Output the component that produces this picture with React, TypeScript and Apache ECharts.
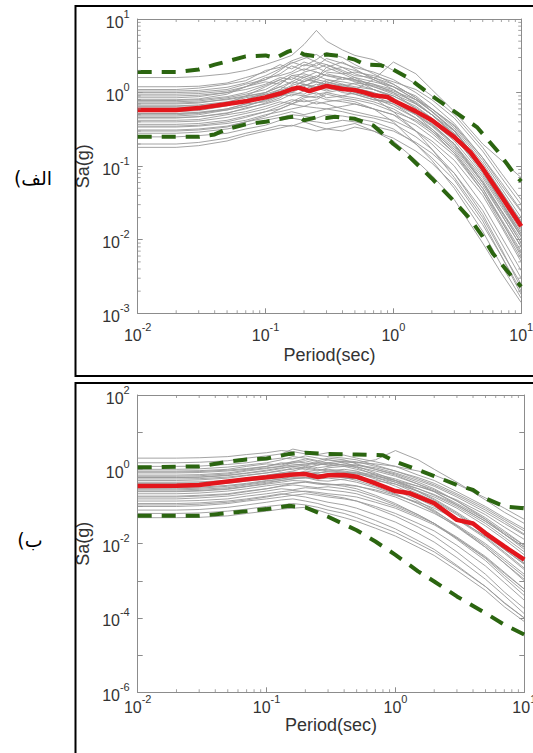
import React, { useEffect, useRef } from "react";
import * as echarts from "echarts";

// ---------- data ----------
const PERIODS = [0.01, 0.02, 0.03, 0.05, 0.07, 0.1, 0.13, 0.16, 0.2, 0.25, 0.3, 0.4, 0.5, 0.7, 1, 1.5, 2, 3, 5, 7, 10];

// panel (الف) individual record spectra, Sa(g) at PERIODS
const A_RECORDS: number[][] = [
  [1.2, 1.2, 1.22, 1.35, 1.6, 1.9, 2.4, 2.1, 2.6, 2.3, 2.9, 2.5, 2.2, 1.9, 1.5, 1.0, 0.7, 0.38, 0.13, 0.06, 0.025],
  [1.1, 1.1, 1.15, 1.3, 1.45, 2.0, 2.2, 2.7, 3.1, 2.6, 2.4, 2.0, 1.7, 1.6, 1.3, 0.85, 0.55, 0.3, 0.1, 0.045, 0.018],
  [1.0, 1.0, 1.02, 1.1, 1.3, 1.5, 1.8, 2.3, 2.0, 2.5, 2.2, 2.6, 2.1, 1.5, 1.1, 0.7, 0.5, 0.26, 0.085, 0.033, 0.012],
  [0.95, 0.95, 0.97, 1.05, 1.2, 1.6, 1.7, 1.9, 2.4, 2.2, 1.9, 1.8, 1.9, 1.7, 1.4, 1.1, 0.8, 0.45, 0.16, 0.07, 0.03],
  [0.85, 0.85, 0.88, 1.0, 1.1, 1.3, 1.6, 1.5, 1.9, 2.1, 2.4, 1.9, 1.6, 1.2, 1.0, 0.6, 0.38, 0.2, 0.06, 0.022, 0.008],
  [0.8, 0.8, 0.82, 0.95, 1.2, 1.4, 1.3, 1.7, 1.8, 1.6, 2.0, 2.2, 2.0, 1.6, 1.2, 0.9, 0.6, 0.35, 0.12, 0.05, 0.02],
  [0.75, 0.75, 0.77, 0.85, 0.95, 1.1, 1.4, 1.6, 1.4, 1.7, 1.5, 1.4, 1.3, 1.1, 0.85, 0.5, 0.32, 0.16, 0.05, 0.018, 0.006],
  [0.7, 0.7, 0.72, 0.82, 0.9, 1.2, 1.5, 1.3, 1.6, 1.9, 1.7, 1.5, 1.6, 1.4, 1.2, 0.8, 0.55, 0.3, 0.1, 0.04, 0.016],
  [0.66, 0.66, 0.68, 0.75, 0.85, 0.95, 1.1, 1.4, 1.3, 1.2, 1.5, 1.3, 1.1, 0.9, 0.7, 0.45, 0.3, 0.15, 0.045, 0.016, 0.0055],
  [0.62, 0.62, 0.64, 0.72, 0.9, 1.0, 1.2, 1.1, 1.5, 1.4, 1.3, 1.6, 1.5, 1.3, 1.0, 0.75, 0.5, 0.28, 0.09, 0.035, 0.013],
  [0.58, 0.58, 0.6, 0.68, 0.75, 0.85, 1.0, 1.2, 1.1, 1.3, 1.2, 1.0, 0.95, 0.8, 0.75, 0.5, 0.36, 0.2, 0.07, 0.028, 0.011],
  [0.55, 0.55, 0.57, 0.66, 0.8, 0.95, 0.9, 1.1, 1.3, 1.1, 1.4, 1.2, 1.0, 0.85, 0.55, 0.3, 0.17, 0.07, 0.02, 0.007, 0.0025],
  [0.52, 0.52, 0.54, 0.6, 0.7, 0.75, 0.9, 1.0, 0.95, 1.2, 1.1, 1.3, 1.2, 1.1, 0.9, 0.65, 0.45, 0.25, 0.08, 0.032, 0.012],
  [0.48, 0.48, 0.5, 0.58, 0.65, 0.8, 0.95, 0.9, 1.05, 0.95, 1.0, 0.9, 0.85, 0.75, 0.6, 0.4, 0.28, 0.15, 0.05, 0.019, 0.007],
  [0.45, 0.45, 0.47, 0.52, 0.62, 0.7, 0.8, 0.95, 0.9, 0.85, 1.0, 1.1, 0.95, 0.8, 0.7, 0.5, 0.35, 0.19, 0.06, 0.024, 0.009],
  [0.42, 0.42, 0.43, 0.5, 0.55, 0.65, 0.75, 0.7, 0.85, 0.9, 0.8, 0.75, 0.7, 0.6, 0.5, 0.3, 0.2, 0.1, 0.03, 0.011, 0.0038],
  [0.4, 0.4, 0.41, 0.46, 0.52, 0.6, 0.7, 0.8, 0.75, 0.8, 0.95, 0.85, 0.8, 0.7, 0.55, 0.42, 0.3, 0.17, 0.055, 0.022, 0.008],
  [0.37, 0.37, 0.38, 0.42, 0.48, 0.55, 0.6, 0.7, 0.8, 0.7, 0.75, 0.8, 0.75, 0.6, 0.4, 0.2, 0.12, 0.05, 0.013, 0.0045, 0.0016],
  [0.34, 0.34, 0.35, 0.38, 0.42, 0.5, 0.55, 0.6, 0.65, 0.62, 0.6, 0.65, 0.7, 0.6, 0.5, 0.36, 0.25, 0.14, 0.045, 0.018, 0.0065],
  [0.31, 0.31, 0.32, 0.35, 0.4, 0.45, 0.5, 0.55, 0.5, 0.55, 0.6, 0.55, 0.5, 0.45, 0.38, 0.25, 0.17, 0.08, 0.022, 0.0075, 0.0022],
  [0.28, 0.28, 0.29, 0.32, 0.36, 0.42, 0.46, 0.5, 0.48, 0.45, 0.5, 0.48, 0.45, 0.4, 0.32, 0.2, 0.13, 0.065, 0.018, 0.006, 0.0018],
  [0.25, 0.25, 0.26, 0.28, 0.32, 0.36, 0.42, 0.45, 0.42, 0.4, 0.38, 0.42, 0.4, 0.35, 0.3, 0.21, 0.15, 0.08, 0.025, 0.009, 0.003],
  [0.2, 0.2, 0.21, 0.24, 0.28, 0.32, 0.36, 0.35, 0.4, 0.35, 0.32, 0.35, 0.38, 0.3, 0.22, 0.12, 0.075, 0.035, 0.009, 0.0035, 0.0014],
  [1.6, 1.6, 1.65, 1.8, 2.0, 2.4, 2.8, 3.2, 4.5, 7.0, 5.0, 3.8, 3.2, 2.8, 2.0, 1.3, 0.9, 0.5, 0.18, 0.08, 0.035],
  [0.18, 0.18, 0.19, 0.22, 0.26, 0.3, 0.33, 0.36, 0.33, 0.3, 0.32, 0.3, 0.34, 0.3, 0.24, 0.16, 0.11, 0.055, 0.016, 0.006, 0.002],
  [0.6, 0.6, 0.62, 0.7, 0.8, 1.0, 1.3, 1.7, 1.6, 1.4, 1.3, 1.2, 1.1, 1.5, 2.6, 1.8, 1.1, 0.55, 0.2, 0.12, 0.07],
  [0.5, 0.5, 0.52, 0.6, 0.7, 0.9, 1.1, 1.0, 1.2, 1.5, 1.8, 1.6, 1.4, 1.2, 0.95, 0.7, 0.5, 0.3, 0.1, 0.042, 0.017],
  [0.72, 0.72, 0.74, 0.8, 0.88, 1.0, 1.2, 1.4, 1.7, 1.5, 1.4, 1.25, 1.15, 1.0, 0.8, 0.55, 0.4, 0.22, 0.075, 0.03, 0.011],
  [0.9, 0.9, 0.92, 1.0, 1.2, 1.5, 2.0, 2.6, 2.3, 2.8, 3.5, 3.0, 2.4, 1.8, 1.3, 0.85, 0.6, 0.33, 0.11, 0.045, 0.017],
  [0.35, 0.35, 0.36, 0.4, 0.46, 0.55, 0.65, 0.75, 0.9, 1.0, 0.85, 0.9, 1.0, 0.85, 0.65, 0.45, 0.32, 0.18, 0.06, 0.025, 0.01],
  [0.65, 0.65, 0.66, 0.72, 0.78, 0.9, 1.05, 1.25, 1.4, 1.6, 2.2, 1.8, 1.5, 1.1, 0.9, 0.62, 0.45, 0.26, 0.09, 0.037, 0.014],
  [0.46, 0.46, 0.47, 0.53, 0.6, 0.72, 0.85, 1.1, 1.3, 1.15, 1.05, 1.2, 1.35, 1.25, 1.05, 0.8, 0.6, 0.36, 0.13, 0.055, 0.024],
  [0.3, 0.3, 0.31, 0.34, 0.4, 0.48, 0.6, 0.7, 0.65, 0.75, 0.7, 0.6, 0.55, 0.48, 0.42, 0.3, 0.22, 0.12, 0.04, 0.015, 0.005],
  [0.78, 0.78, 0.8, 0.88, 1.0, 1.25, 1.5, 1.8, 2.1, 1.9, 1.7, 1.6, 1.45, 1.3, 1.1, 0.72, 0.5, 0.27, 0.085, 0.032, 0.011],
  [0.52, 0.52, 0.53, 0.58, 0.66, 0.78, 0.92, 1.05, 1.25, 1.4, 1.2, 1.05, 1.15, 1.0, 0.78, 0.52, 0.37, 0.2, 0.064, 0.025, 0.009],
  [1.05, 1.05, 1.07, 1.18, 1.35, 1.7, 2.1, 2.5, 2.9, 3.3, 2.7, 2.2, 1.8, 1.5, 1.2, 0.8, 0.56, 0.31, 0.1, 0.04, 0.015],
];

const A_MEAN_T = [0.01, 0.02, 0.03, 0.05, 0.07, 0.1, 0.13, 0.16, 0.18, 0.2, 0.22, 0.25, 0.3, 0.35, 0.4, 0.5, 0.6, 0.7, 0.9, 1, 1.5, 2, 3, 4, 5, 7, 10];
const A_MEAN = [0.58, 0.58, 0.615, 0.7, 0.76, 0.86, 0.97, 1.11, 1.17, 1.11, 1.05, 1.12, 1.23, 1.17, 1.12, 1.08, 1.0, 0.92, 0.87, 0.78, 0.555, 0.42, 0.248, 0.155, 0.093, 0.039, 0.0152];

const A_UPPER_T = [0.01, 0.02, 0.03, 0.04, 0.05, 0.07, 0.1, 0.12, 0.15, 0.17, 0.2, 0.25, 0.3, 0.4, 0.5, 0.6, 0.8, 1, 1.3, 1.7, 2, 2.8, 4.5, 6.6, 9, 10];
const A_UPPER = [1.9, 1.9, 2.06, 2.4, 2.65, 3.1, 3.2, 2.95, 3.6, 3.85, 3.3, 3.1, 3.3, 3.1, 2.8, 2.4, 2.35, 2.05, 1.6, 1.12, 0.9, 0.6, 0.34, 0.157, 0.075, 0.062];

const A_LOWER_T = [0.01, 0.03, 0.04, 0.05, 0.07, 0.1, 0.15, 0.18, 0.2, 0.25, 0.3, 0.35, 0.5, 0.7, 0.8, 1, 1.3, 2, 3, 4, 5, 6, 8.4, 10];
const A_LOWER = [0.25, 0.25, 0.27, 0.32, 0.37, 0.4, 0.46, 0.48, 0.42, 0.46, 0.45, 0.47, 0.44, 0.355, 0.29, 0.2, 0.14, 0.068, 0.033, 0.019, 0.011, 0.0065, 0.0032, 0.0023];

// panel (ب)
const B_RECORDS: number[][] = [
  [2.0, 2.0, 2.05, 2.2, 2.5, 2.8, 3.2, 3.0, 2.6, 2.4, 2.2, 2.0, 1.8, 1.3, 0.9, 0.55, 0.38, 0.2, 0.08, 0.04, 0.018],
  [1.5, 1.5, 1.55, 1.7, 2.0, 2.3, 2.6, 3.5, 3.0, 2.5, 2.8, 2.4, 2.0, 1.6, 1.2, 0.7, 0.5, 0.25, 0.1, 0.05, 0.025],
  [1.2, 1.2, 1.22, 1.35, 1.5, 1.8, 2.0, 1.9, 2.3, 2.0, 1.8, 1.6, 1.5, 1.8, 3.2, 1.8, 1.0, 0.45, 0.15, 0.07, 0.035],
  [1.0, 1.0, 1.03, 1.15, 1.3, 1.5, 1.8, 2.2, 2.0, 1.7, 2.0, 1.8, 1.4, 1.0, 0.7, 0.4, 0.25, 0.11, 0.04, 0.018, 0.008],
  [0.9, 0.9, 0.92, 1.0, 1.2, 1.4, 1.3, 1.6, 1.9, 1.6, 1.5, 1.7, 1.6, 1.2, 0.9, 0.6, 0.42, 0.22, 0.09, 0.045, 0.022],
  [0.8, 0.8, 0.82, 0.9, 1.0, 1.2, 1.5, 1.4, 1.3, 1.5, 1.8, 1.5, 1.2, 0.8, 0.5, 0.26, 0.16, 0.07, 0.022, 0.009, 0.0035],
  [0.7, 0.7, 0.72, 0.8, 0.95, 1.1, 1.2, 1.5, 1.7, 1.4, 1.3, 1.2, 1.3, 1.1, 0.8, 0.5, 0.35, 0.18, 0.07, 0.035, 0.017],
  [0.6, 0.6, 0.62, 0.7, 0.8, 0.95, 1.1, 1.2, 1.1, 1.3, 1.5, 1.3, 1.1, 0.7, 0.45, 0.25, 0.15, 0.065, 0.02, 0.008, 0.003],
  [0.55, 0.55, 0.56, 0.62, 0.7, 0.8, 0.95, 1.0, 1.2, 1.0, 0.9, 1.0, 0.9, 0.6, 0.4, 0.22, 0.14, 0.06, 0.019, 0.007, 0.0028],
  [0.5, 0.5, 0.52, 0.58, 0.68, 0.8, 0.9, 1.1, 1.0, 0.9, 1.1, 1.2, 1.0, 0.75, 0.55, 0.35, 0.25, 0.12, 0.045, 0.02, 0.009],
  [0.45, 0.45, 0.46, 0.5, 0.58, 0.7, 0.8, 0.75, 0.9, 0.8, 0.85, 0.8, 0.7, 0.45, 0.28, 0.14, 0.08, 0.03, 0.008, 0.003, 0.001],
  [0.4, 0.4, 0.41, 0.46, 0.55, 0.62, 0.75, 0.85, 0.8, 0.7, 0.75, 0.8, 0.85, 0.7, 0.5, 0.3, 0.2, 0.1, 0.035, 0.015, 0.006],
  [0.36, 0.36, 0.37, 0.42, 0.48, 0.55, 0.6, 0.7, 0.8, 0.75, 0.65, 0.6, 0.55, 0.4, 0.28, 0.16, 0.1, 0.045, 0.014, 0.0055, 0.002],
  [0.32, 0.32, 0.33, 0.37, 0.42, 0.5, 0.55, 0.6, 0.58, 0.65, 0.7, 0.6, 0.5, 0.35, 0.22, 0.12, 0.07, 0.028, 0.008, 0.003, 0.0011],
  [0.28, 0.28, 0.29, 0.32, 0.38, 0.45, 0.5, 0.55, 0.6, 0.5, 0.48, 0.55, 0.6, 0.5, 0.4, 0.26, 0.18, 0.09, 0.03, 0.013, 0.005],
  [0.25, 0.25, 0.26, 0.29, 0.34, 0.4, 0.45, 0.5, 0.48, 0.42, 0.4, 0.35, 0.3, 0.2, 0.12, 0.06, 0.035, 0.013, 0.0035, 0.0012, 0.0004],
  [0.22, 0.22, 0.23, 0.26, 0.3, 0.36, 0.4, 0.42, 0.45, 0.4, 0.38, 0.4, 0.36, 0.26, 0.18, 0.1, 0.065, 0.03, 0.009, 0.0035, 0.0013],
  [0.19, 0.19, 0.2, 0.22, 0.26, 0.3, 0.35, 0.38, 0.35, 0.32, 0.34, 0.3, 0.26, 0.18, 0.11, 0.06, 0.035, 0.014, 0.004, 0.0014, 0.0005],
  [0.16, 0.16, 0.17, 0.19, 0.22, 0.26, 0.3, 0.28, 0.32, 0.3, 0.28, 0.25, 0.22, 0.15, 0.1, 0.055, 0.035, 0.015, 0.0045, 0.0017, 0.0006],
  [0.14, 0.14, 0.145, 0.16, 0.19, 0.22, 0.25, 0.27, 0.25, 0.22, 0.2, 0.17, 0.14, 0.09, 0.055, 0.028, 0.016, 0.006, 0.0015, 0.0005, 0.00018],
  [0.12, 0.12, 0.125, 0.14, 0.16, 0.19, 0.22, 0.2, 0.22, 0.2, 0.18, 0.16, 0.14, 0.1, 0.065, 0.035, 0.022, 0.009, 0.0025, 0.0009, 0.0003],
  [0.1, 0.1, 0.105, 0.12, 0.14, 0.16, 0.18, 0.2, 0.18, 0.15, 0.13, 0.11, 0.09, 0.06, 0.038, 0.019, 0.011, 0.0042, 0.0011, 0.0004, 0.00013],
  [0.08, 0.08, 0.083, 0.095, 0.11, 0.13, 0.15, 0.16, 0.14, 0.12, 0.1, 0.08, 0.065, 0.042, 0.025, 0.012, 0.007, 0.0026, 0.0007, 0.00025, 0.0001],
  [0.065, 0.065, 0.067, 0.075, 0.085, 0.1, 0.11, 0.12, 0.11, 0.095, 0.08, 0.065, 0.05, 0.032, 0.02, 0.01, 0.006, 0.0024, 0.0007, 0.00026, 0.0001],
  [0.05, 0.05, 0.051, 0.056, 0.065, 0.075, 0.085, 0.09, 0.095, 0.08, 0.065, 0.05, 0.04, 0.026, 0.016, 0.008, 0.0048, 0.0019, 0.00055, 0.0002, 0.00008],
  [0.3, 0.3, 0.31, 0.35, 0.4, 0.48, 0.55, 0.65, 0.7, 0.6, 0.7, 0.75, 0.8, 0.65, 0.5, 0.35, 0.26, 0.15, 0.06, 0.028, 0.013],
  [0.42, 0.42, 0.43, 0.48, 0.56, 0.66, 0.8, 0.9, 1.1, 0.95, 1.0, 0.9, 0.8, 0.55, 0.35, 0.19, 0.12, 0.05, 0.015, 0.006, 0.0022],
  [0.65, 0.65, 0.67, 0.75, 0.9, 1.05, 1.2, 1.3, 1.4, 1.5, 1.3, 1.6, 1.5, 1.4, 1.2, 0.9, 0.7, 0.4, 0.17, 0.09, 0.045],
  [0.85, 0.85, 0.87, 0.95, 1.05, 1.2, 1.4, 1.6, 1.5, 1.3, 1.45, 1.3, 1.15, 0.9, 0.65, 0.4, 0.28, 0.14, 0.05, 0.022, 0.009],
  [0.38, 0.38, 0.39, 0.44, 0.5, 0.58, 0.68, 0.75, 0.72, 0.8, 0.9, 0.85, 0.75, 0.6, 0.45, 0.3, 0.21, 0.11, 0.04, 0.018, 0.008],
  [0.26, 0.26, 0.27, 0.3, 0.35, 0.42, 0.5, 0.56, 0.6, 0.55, 0.58, 0.52, 0.45, 0.32, 0.21, 0.12, 0.075, 0.032, 0.01, 0.004, 0.0015],
  [0.18, 0.18, 0.19, 0.21, 0.25, 0.3, 0.36, 0.42, 0.46, 0.43, 0.4, 0.38, 0.35, 0.28, 0.2, 0.13, 0.09, 0.045, 0.016, 0.007, 0.0028],
  [0.11, 0.11, 0.115, 0.13, 0.15, 0.18, 0.21, 0.24, 0.26, 0.24, 0.22, 0.2, 0.18, 0.13, 0.09, 0.05, 0.032, 0.014, 0.0042, 0.0016, 0.0006],
  [0.6, 0.6, 0.61, 0.68, 0.78, 0.9, 1.05, 1.2, 1.3, 1.1, 1.2, 1.4, 1.3, 1.0, 0.75, 0.45, 0.3, 0.14, 0.045, 0.018, 0.007],
];

const B_MEAN_T = [0.01, 0.02, 0.03, 0.05, 0.07, 0.1, 0.13, 0.16, 0.2, 0.25, 0.3, 0.4, 0.5, 0.7, 1, 1.3, 1.5, 2, 3, 4, 5, 7, 10];
const B_MEAN = [0.356, 0.36, 0.38, 0.47, 0.54, 0.61, 0.675, 0.73, 0.75, 0.62, 0.69, 0.7, 0.635, 0.42, 0.26, 0.226, 0.184, 0.122, 0.0435, 0.035, 0.019, 0.0084, 0.0037];

const B_UPPER_T = [0.01, 0.03, 0.05, 0.07, 0.1, 0.15, 0.2, 0.3, 0.5, 0.8, 1, 1.5, 2, 3, 4, 5, 7, 10];
const B_UPPER = [1.13, 1.2, 1.6, 1.85, 1.95, 2.6, 2.8, 2.6, 2.5, 2.4, 1.6, 0.96, 0.66, 0.38, 0.28, 0.166, 0.1, 0.09];

const B_LOWER_T = [0.01, 0.03, 0.05, 0.1, 0.15, 0.2, 0.3, 0.5, 0.7, 1, 1.5, 2, 3, 5, 7, 10];
const B_LOWER = [0.056, 0.056, 0.066, 0.085, 0.104, 0.095, 0.053, 0.023, 0.0114, 0.005, 0.0018, 0.00096, 0.00038, 0.000135, 0.000066, 0.0000357];

// axes
const X_RANGE = [0.01, 10];
const A_Y_RANGE = [0.001, 10];
const B_Y_RANGE = [0.000001, 100];
const MINOR_X = [0.02, 0.03, 0.04, 0.05, 0.06, 0.07, 0.08, 0.09, 0.2, 0.3, 0.4, 0.5, 0.6, 0.7, 0.8, 0.9, 2, 3, 4, 5, 6, 7, 8, 9];
const A_MINOR_Y = [0.002, 0.003, 0.004, 0.005, 0.006, 0.007, 0.008, 0.009, 0.02, 0.03, 0.04, 0.05, 0.06, 0.07, 0.08, 0.09, 0.2, 0.3, 0.4, 0.5, 0.6, 0.7, 0.8, 0.9, 2, 3, 4, 5, 6, 7, 8, 9];

const X_NAME = "Period(sec)";
const Y_NAME = "Sa(g)";
const PANEL_LABELS = ["الف)\u200F", "ب)\u200F"];

// ---------- styles ----------
const AXIS_COLOR = "#8c8c8c";
const LABEL_COLOR = "#333333";
const FONT = "'Liberation Sans', Arial, sans-serif";
const GRAY = "#9a9a9a";
const RED = "#e3161c";
const GREEN = "#2b6510";

const rich = {
  b: { fontSize: 16, lineHeight: 22, verticalAlign: "bottom", color: LABEL_COLOR, fontFamily: FONT },
  s: { fontSize: 11, lineHeight: 12, verticalAlign: "top", color: LABEL_COLOR, fontFamily: FONT },
};

const powLabel = (skipOdd: boolean) => (v: number) => {
  const e = Math.round(Math.log10(v));
  if (skipOdd && e % 2 !== 0) return "";
  return `{b|10}{s|${e}}`;
};

const axisLine = { show: true, onZero: false, lineStyle: { color: AXIS_COLOR, width: 1 } };
const axisTick = { show: true, inside: true, length: 5, lineStyle: { color: AXIS_COLOR, width: 1 } };

function xAxes(gridIndex: number, margin: number, nameGap: number) {
  return [
    {
      type: "log", logBase: 10, gridIndex, position: "bottom", min: X_RANGE[0], max: X_RANGE[1],
      axisLine, axisTick, splitLine: { show: false },
      axisLabel: { margin, formatter: powLabel(false), rich },
      name: X_NAME, nameLocation: "middle", nameGap, nameMoveOverlap: false,
      nameTextStyle: { fontSize: 18, color: LABEL_COLOR, fontFamily: FONT },
    },
    {
      type: "log", logBase: 10, gridIndex, position: "top", min: X_RANGE[0], max: X_RANGE[1],
      axisLine, axisTick, splitLine: { show: false }, axisLabel: { show: false },
    },
  ];
}

function yAxes(gridIndex: number, range: number[], skipOdd: boolean) {
  return [
    {
      type: "log", logBase: 10, gridIndex, position: "left", min: range[0], max: range[1],
      axisLine, axisTick, splitLine: { show: false },
      axisLabel: { margin: 8, formatter: powLabel(skipOdd), rich },
      name: Y_NAME, nameLocation: "middle", nameGap: 46, nameMoveOverlap: false,
      nameTextStyle: { fontSize: 18, color: LABEL_COLOR, fontFamily: FONT },
    },
    {
      type: "log", logBase: 10, gridIndex, position: "right", min: range[0], max: range[1],
      axisLine, axisTick, splitLine: { show: false }, axisLabel: { show: false },
    },
  ];
}

function line(xs: number[], ys: number[], axis: number, style: any, z: number) {
  return {
    type: "line", xAxisIndex: axis, yAxisIndex: axis, data: xs.map((x, i) => [x, ys[i]]),
    showSymbol: false, symbol: "none", silent: true, z, lineStyle: style,
  };
}

function ticks(xAxisIndex: number, yAxisIndex: number, data: number[][], size: number[], offset: number[]) {
  return {
    type: "scatter", xAxisIndex, yAxisIndex, data, symbol: "rect", symbolSize: size, symbolOffset: offset,
    itemStyle: { color: AXIS_COLOR }, silent: true, clip: false, z: 6,
  };
}

function panelSeries(records: number[][], meanT: number[], mean: number[], upT: number[], up: number[], loT: number[], lo: number[], axis: number) {
  const s: any[] = records.map((r) => line(PERIODS, r, axis, { color: GRAY, width: 0.9 }, 2));
  const dash = { color: GREEN, width: 4, type: [14, 10], cap: "butt" };
  s.push(line(upT, up, axis, dash, 3));
  s.push(line(loT, lo, axis, dash, 3));
  s.push(line(meanT, mean, axis, { color: RED, width: 4.5 }, 4));
  return s;
}

function buildOption() {
  const series: any[] = [
    ...panelSeries(A_RECORDS, A_MEAN_T, A_MEAN, A_UPPER_T, A_UPPER, A_LOWER_T, A_LOWER, 0),
    ...panelSeries(B_RECORDS, B_MEAN_T, B_MEAN, B_UPPER_T, B_UPPER, B_LOWER_T, B_LOWER, 2),
    // minor ticks panel A
    ticks(0, 0, MINOR_X.map((x) => [x, A_Y_RANGE[0]]), [1, 3], [0, -1.5]),
    ticks(0, 0, MINOR_X.map((x) => [x, A_Y_RANGE[1]]), [1, 3], [0, 1.5]),
    ticks(0, 0, A_MINOR_Y.map((y) => [X_RANGE[0], y]), [3, 1], [1.5, 0]),
    ticks(0, 0, A_MINOR_Y.map((y) => [X_RANGE[1], y]), [3, 1], [-1.5, 0]),
    // minor ticks panel B
    ticks(2, 2, MINOR_X.map((x) => [x, B_Y_RANGE[0]]), [1, 3], [0, -1.5]),
    ticks(2, 2, MINOR_X.map((x) => [x, B_Y_RANGE[1]]), [1, 3], [0, 1.5]),
  ];

  return {
    animation: false,
    backgroundColor: "#ffffff",
    grid: [
      { left: 137.7, top: 19, width: 383.5, height: 294.3, containLabel: false, outerBoundsMode: "none" },
      { left: 137.7, top: 395, width: 386.6, height: 297.3, containLabel: false, outerBoundsMode: "none" },
    ],
    xAxis: [...xAxes(0, 8, 33), ...xAxes(1, 1, 24)],
    yAxis: [...yAxes(0, A_Y_RANGE, false), ...yAxes(1, B_Y_RANGE, true)],
    series,
    graphic: [
      { type: "rect", shape: { x: 75.5, y: 6, width: 520, height: 370 }, style: { fill: "none", stroke: "#000", lineWidth: 2 }, z: 10 },
      { type: "rect", shape: { x: 75.5, y: 383, width: 520, height: 420 }, style: { fill: "none", stroke: "#000", lineWidth: 2 }, z: 10 },
      {
        type: "text", x: 33, y: 178, z: 10,
        style: { text: PANEL_LABELS[0], font: "19px 'DejaVu Sans'", fill: "#000", align: "center", verticalAlign: "middle", textAlign: "center", textVerticalAlign: "middle" },
      },
      {
        type: "text", x: 30, y: 540, z: 10,
        style: { text: PANEL_LABELS[1], font: "19px 'DejaVu Sans'", fill: "#000", align: "center", verticalAlign: "middle", textAlign: "center", textVerticalAlign: "middle" },
      },
    ],
  };
}

export default function App() {
  const ref = useRef<HTMLDivElement>(null);
  useEffect(() => {
    document.body.style.margin = "0";
    const chart = echarts.init(ref.current as HTMLDivElement, null, { renderer: "svg", width: 533, height: 753 });
    chart.setOption(buildOption() as any);
    return () => chart.dispose();
  }, []);
  return <div ref={ref} style={{ position: "absolute", left: 0, top: 0, width: 533, height: 753, background: "#fff" }} />;
}
